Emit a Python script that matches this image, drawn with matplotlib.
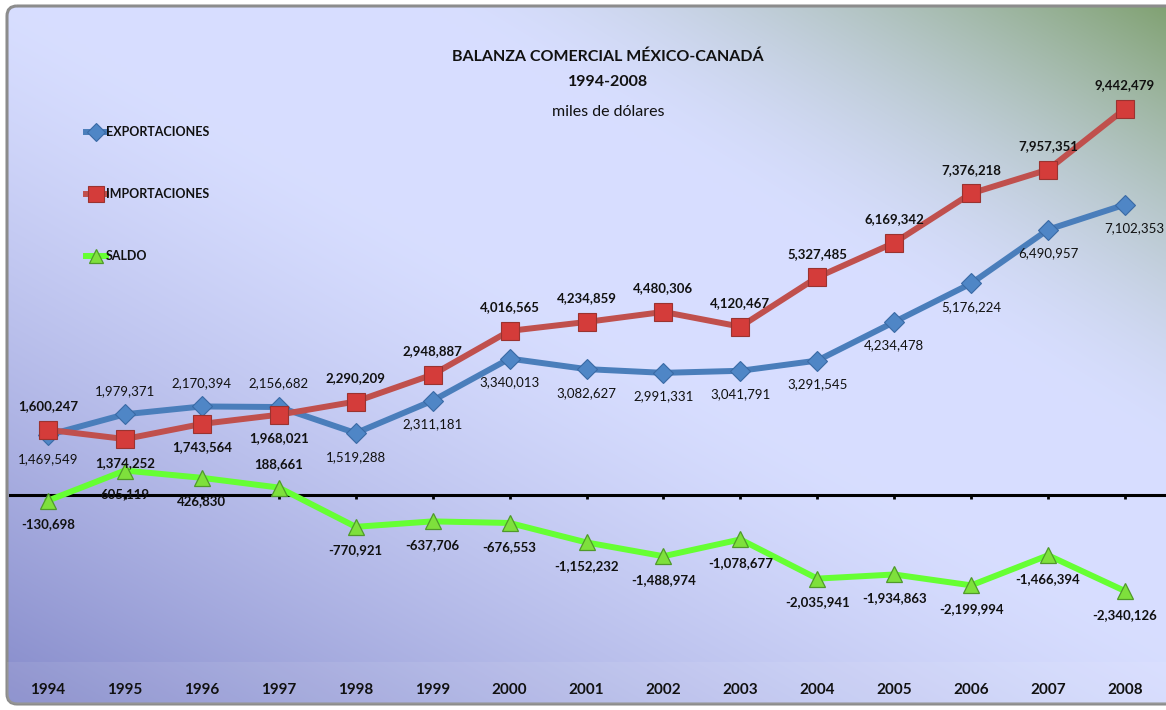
import numpy as np
import matplotlib
matplotlib.use("Agg")
import matplotlib.pyplot as plt
from matplotlib.patches import FancyBboxPatch, Rectangle

plt.rcParams['font.family'] = ['Lato', 'DejaVu Sans']

years = ["1994", "1995", "1996", "1997", "1998", "1999", "2000", "2001",
         "2002", "2003", "2004", "2005", "2006", "2007", "2008"]
exportaciones = [1469549, 1979371, 2170394, 2156682, 1519288, 2311181, 3340013, 3082627,
                 2991331, 3041791, 3291545, 4234478, 5176224, 6490957, 7102353]
importaciones = [1600247, 1374252, 1743564, 1968021, 2290209, 2948887, 4016565, 4234859,
                 4480306, 4120467, 5327485, 6169342, 7376218, 7957351, 9442479]
saldo = [-130698, 605119, 426830, 188661, -770921, -637706, -676553, -1152232,
         -1488974, -1078677, -2035941, -1934863, -2199994, -1466394, -2340126]

# where each data label sits relative to its point: 1 above, -1 below, 2 below-right
pos_exp = [-1, 1, 1, 1, -1, -1, -1, -1, -1, -1, -1, -1, -1, -1, 2]
pos_imp = [1, -1, -1, -1, 1, 1, 1, 1, 1, 1, 1, 1, 1, 1, 1]
pos_sal = [-1, -1, -1, 1, -1, -1, -1, -1, -1, -1, -1, -1, -1, -1, -1]

W, H = 1166, 710
fig = plt.figure(figsize=(W / 100, H / 100), dpi=100)

# background: lavender base, purple from bottom-left, green in top-right corner
bg = fig.add_axes([0, 0, 1, 1], zorder=-10)
bg.set_xlim(0, W)
bg.set_ylim(H, 0)
bg.axis('off')
uu, vv = np.meshgrid(np.linspace(0, 1, 400), np.linspace(1, 0, 250))
base = np.array([0.845, 0.87, 1.0])
purple = np.array([0.52, 0.54, 0.79])
green = np.array([0.50, 0.63, 0.44])
d1 = 0.5 * uu + 0.55 * vv
a_p = np.clip(1 - d1 / 0.55, 0, 1) ** 1.3
g = 0.5 * (1 - uu) + 0.5 * (1 - vv)
a_g = np.clip(1 - g / 0.32, 0, 1) ** 1.6
rgb = base[None, None, :] * (1 - a_p[..., None]) + purple[None, None, :] * a_p[..., None]
rgb = rgb * (1 - a_g[..., None]) + green[None, None, :] * a_g[..., None]
img = bg.imshow(rgb, extent=[0, W, H, 0], aspect='auto', interpolation='bilinear')
frame = FancyBboxPatch((7, 6), W + 20, H - 12, boxstyle="round,pad=0,rounding_size=10",
                       facecolor='none', edgecolor='#8c8c8c', lw=2.2, transform=bg.transData)
bg.add_patch(frame)
img.set_clip_path(frame)
band = Rectangle((7, 662), W, 42, facecolor='white', alpha=0.08, edgecolor='none',
                 transform=bg.transData)
bg.add_patch(band)
band.set_clip_path(frame)

# main axes
ax_left, ax_right = 9.5 / W, 1163.5 / W
ax_bottom, ax_top = 1 - 659 / H, 1 - 86 / H
ax = fig.add_axes([ax_left, ax_bottom, ax_right - ax_left, ax_top - ax_bottom])
ax.set_facecolor('none')
ax.set_xlim(-0.5, len(years) - 0.5)
ax.set_ylim(-4000000, 10000000)
for s in ['top', 'right', 'left']:
    ax.spines[s].set_visible(False)
ax.spines['bottom'].set_position(('data', 0))
ax.spines['bottom'].set_linewidth(2.2)
ax.set_yticks([])
ax.set_xticks(range(len(years)))
ax.tick_params(axis='x', labelbottom=False, direction='out', length=3, width=2)

x = np.arange(len(years))
ax.plot(x, exportaciones, color='#4a7ebb', lw=4.3, marker='D', ms=10.5,
        mfc='#4f86c6', mec='#3a6aa5', mew=0.8, label='EXPORTACIONES', zorder=3)
ax.plot(x, importaciones, color='#c0504d', lw=4.3, marker='s', ms=13.5,
        mfc='#d43c3a', mec='#9a3330', mew=0.8, label='IMPORTACIONES', zorder=3)
ax.plot(x, saldo, color='#66ff33', lw=4.3, marker='^', ms=12,
        mfc='#7ee03c', mec='#4f9a2a', mew=0.9, label='SALDO', zorder=3)


def fmt(v):
    return f"{v:,}"


def put_labels(vals, pos, bold):
    for i, v in enumerate(vals):
        if pos[i] == 2:
            off = (7, -17)
        else:
            off = (0, 17 * pos[i])
        ax.annotate(fmt(v), (i, v), xytext=off, textcoords='offset points',
                    ha='center', va='center', fontsize=9.5,
                    fontweight='bold' if bold else 'normal', color='#111111', zorder=5)


put_labels(exportaciones, pos_exp, False)
put_labels(importaciones, pos_imp, True)
put_labels(saldo, pos_sal, True)

# category labels at the bottom
for i, yr in enumerate(years):
    ax.annotate(yr, (i, 0), xycoords=('data', 'axes fraction'), xytext=(0, -22.5),
                textcoords='offset points', ha='center', va='center',
                fontsize=11, fontweight='bold', color='#111111')

# titles
fig.text(608 / W, 1 - 57 / H, "BALANZA COMERCIAL MÉXICO-CANADÁ", ha='center', va='center',
         fontsize=11.5, fontweight='bold', color='#111111')
fig.text(608 / W, 1 - 82 / H, "1994-2008", ha='center', va='center',
         fontsize=11.5, fontweight='bold', color='#111111')
fig.text(608 / W, 1 - 112 / H, "miles de dólares", ha='center', va='center',
         fontsize=11.5, color='#111111')

leg = ax.legend(loc='upper left', bbox_to_anchor=(80 / W, 1 - 120 / H),
                bbox_transform=fig.transFigure, frameon=False, handlelength=1.6,
                handletextpad=0.0, labelspacing=4.0, borderpad=0,
                prop={'weight': 'bold', 'size': 9}, markerscale=0.85)
for t in leg.get_texts():
    t.set_color('#111111')

fig.savefig("out.png", dpi=100)
